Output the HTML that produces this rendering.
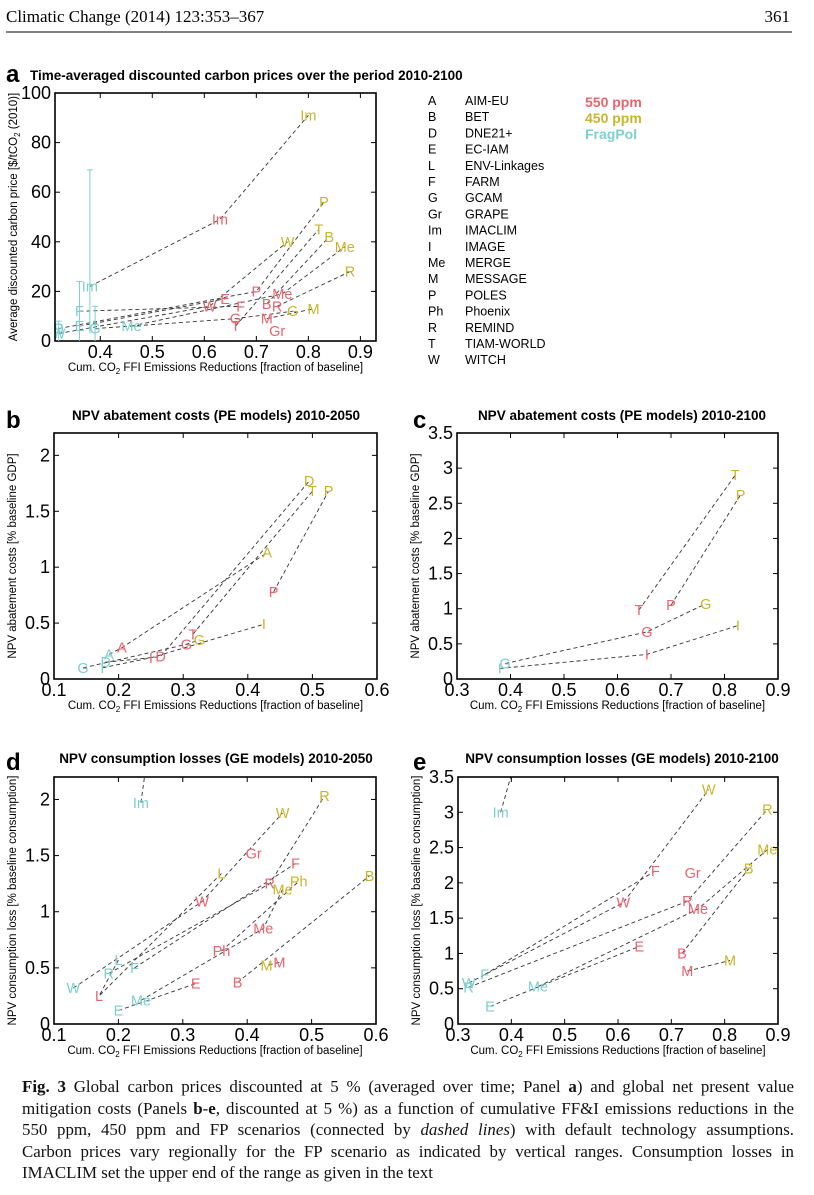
<!DOCTYPE html>
<html><head><meta charset="utf-8"><style>
body{margin:0;background:#fff;width:814px;height:1195px;overflow:hidden;font-family:"Liberation Sans",sans-serif}
svg{position:absolute;left:0;top:0}
.cap{position:absolute;left:22px;top:1076px;width:772px;font-family:"Liberation Serif",serif;font-size:16.9px;line-height:21.5px;color:#111}
.cap div{white-space:nowrap;text-align:justify;text-align-last:justify}
.cap div.last{text-align-last:left}
</style></head><body>
<svg id="fig" width="814" height="1195">
<text x="6" y="22" font-family="Liberation Serif" font-size="17">Climatic Change (2014) 123:353–367</text>
<text x="790" y="22" text-anchor="end" font-family="Liberation Serif" font-size="17">361</text>
<line x1="6" y1="32" x2="792" y2="32" stroke="#000" stroke-width="1"/>
</svg>
<div class="cap">
<div><b>Fig. 3</b> Global carbon prices discounted at 5 % (averaged over time; Panel <b>a</b>) and global net present value</div>
<div>mitigation costs (Panels <b>b</b>-<b>e</b>, discounted at 5 %) as a function of cumulative FF&amp;I emissions reductions in the</div>
<div>550 ppm, 450 ppm and FP scenarios (connected by <i>dashed lines</i>) with default technology assumptions.</div>
<div>Carbon prices vary regionally for the FP scenario as indicated by vertical ranges. Consumption losses in</div>
<div class="last">IMACLIM set the upper end of the range as given in the text</div>
</div>
<script>
// ---- Panel a data ----
const aModels = ["Im","F","P","W","E","G","Me","B","R","M","Gr","T","D"];
const aXfp  = [0.38,0.36,0.32,0.32,0.36,0.39,0.46,null,null,null,null,null,0.32];
const aYfp  = [22,12,5,3,6,5,6,null,null,null,null,null,5];
const aX550 = [0.63,0.67,0.70,0.61,0.64,0.66,0.75,0.72,0.74,0.72,0.74,0.66,null];
const aY550 = [49,14,20,14,17,9,19,15,14,9,4,6,null];
const aX450 = [0.80,null,0.83,0.76,null,0.77,0.87,0.84,0.88,0.81,null,0.82,null];
const aY450 = [91,null,56,40,null,12,38,42,28,13,null,45,null];
const aErrX = [0.38,0.36,0.39,0.32];
const aErrLo = [3,0,0,0];
const aErrHi = [69,24,14,8];
// ---- Panel b data ----
const bModels = ["G","I","D","A","T","P"];
const bXfp  = [0.145,0.175,0.18,0.185,null,null];
const bYfp  = [0.1,0.1,0.15,0.22,null,null];
const bX550 = [0.305,0.25,0.265,0.205,0.315,0.44];
const bY550 = [0.31,0.19,0.2,0.28,0.4,0.78];
const bX450 = [0.325,0.425,0.495,0.43,0.5,0.525];
const bY450 = [0.35,0.49,1.77,1.13,1.68,1.68];
// ---- Panel c data ----
const cModels = ["G","I","T","P"];
const cXfp  = [0.39,0.38,null,null];
const cYfp  = [0.22,0.15,null,null];
const cX550 = [0.655,0.655,0.64,0.70];
const cY550 = [0.67,0.35,0.98,1.05];
const cX450 = [0.765,0.825,0.82,0.83];
const cY450 = [1.07,0.76,2.9,2.62];
// ---- Panel d data ----
const dModels = ["Im","W","L","R","F","Gr","Ph","Me","E","B","M"];
const dXfp  = [0.235,0.13,0.2,0.185,0.225,null,null,0.235,0.2,null,null];
const dYfp  = [1.97,0.32,0.57,0.45,0.5,null,null,0.21,0.12,null,null];
const dX550 = [null,0.33,0.17,0.435,0.475,0.41,0.36,0.425,0.32,0.385,0.45];
const dY550 = [null,1.09,0.25,1.25,1.43,1.52,0.65,0.85,0.36,0.37,0.55];
const dX450 = [0.25,0.455,0.36,0.52,null,null,0.48,0.455,null,0.59,0.43];
const dY450 = [2.6,1.88,1.34,2.03,null,null,1.27,1.2,null,1.32,0.52];
// ---- Panel e data ----
const eModels = ["Im","W","F","R","Gr","Me","E","B","M"];
const eXfp  = [0.38,0.32,0.35,0.32,null,0.45,0.36,null,null];
const eYfp  = [3.0,0.58,0.7,0.52,null,0.53,0.25,null,null];
const eX550 = [null,0.61,0.67,0.73,0.74,0.75,0.64,0.72,0.73];
const eY550 = [null,1.72,2.17,1.74,2.14,1.63,1.1,1.0,0.75];
const eX450 = [0.41,0.77,null,0.88,null,0.88,null,0.845,0.81];
const eY450 = [3.8,3.32,null,3.04,null,2.47,null,2.2,0.9];
// tick labels
const aXTicks=[0.4,0.5,0.6,0.7,0.8,0.9], aYTicks=[0,20,40,60,80,100];
const bXTicks=[0.1,0.2,0.3,0.4,0.5,0.6], bYTicks=[0,0.5,1,1.5,2];
const cXTicks=[0.3,0.4,0.5,0.6,0.7,0.8,0.9], cYTicks=[0,0.5,1,1.5,2,2.5,3,3.5];
const legCodes=["A","B","D","E","L","F","G","Gr","Im","I","Me","M","P","Ph","R","T","W"];
const legNames=["AIM-EU","BET","DNE21+","EC-IAM","ENV-Linkages","FARM","GCAM","GRAPE","IMACLIM","IMAGE","MERGE","MESSAGE","POLES","Phoenix","REMIND","TIAM-WORLD","WITCH"];

const NS="http://www.w3.org/2000/svg";
const svg=document.getElementById('fig');
const C_FP="#7dcfcd", C_550="#e8646f", C_450="#c9b52c";
function mk(tag,attrs,parent){const e=document.createElementNS(NS,tag);for(const k in attrs)e.setAttribute(k,attrs[k]);(parent||svg).appendChild(e);return e;}

function panel(id,box,xr,yr,xt,yt,letter,letterPos,title,titleX,titleY,ylab,models,xf,yf,x5,y5,x4,y4){
  const g=mk('g',{});
  
  
  const sx=v=>box.l+(v-xr[0])/(xr[1]-xr[0])*(box.r-box.l);
  const sy=v=>box.b-(v-yr[0])/(yr[1]-yr[0])*(box.b-box.t);
  const cp='clip-'+id;
  const cl=mk('clipPath',{id:cp},g);mk('rect',{x:box.l,y:box.t,width:box.r-box.l,height:box.b-box.t},cl);
  const L=mk('text',{x:letterPos[0],y:letterPos[1],'font-size':24,'font-weight':'bold'},g);L.textContent=letter;
  
  
  const T=mk('text',{x:titleX,y:titleY,'font-size':13.5,'font-weight':'bold','text-anchor':letter==='a'?'start':'middle'},g);T.textContent=title;
  
  
  const lines=mk('g',{'clip-path':'url(#'+cp+')'},g);
  
  
  const marks=mk('g',{'clip-path':'url(#'+cp+')'},g);
  for(let i=0;i<models.length;i++){
    const pts=[[xf[i],yf[i]],[x5[i],y5[i]],[x4[i],y4[i]]].filter(p=>p[0]!=null);
    if(pts.length>1){const pl=mk('polyline',{points:pts.map(p=>sx(p[0])+','+sy(p[1])).join(' '),fill:'none',stroke:'#333','stroke-width':0.9,'stroke-dasharray':'4,3'},lines);
      
      }
    [[xf,yf,C_FP,'fp'],[x5,y5,C_550,'550'],[x4,y4,C_450,'450']].forEach(s=>{
      if(s[0][i]==null)return;
      const t=mk('text',{x:sx(s[0][i]),y:sy(s[1][i])+5,'font-size':14.5,fill:s[2],'text-anchor':'middle'},marks);
      t.textContent=models[i];
      
      
    });
  }
  mk('rect',{x:box.l,y:box.t,width:box.r-box.l,height:box.b-box.t,fill:'none',stroke:'#000','stroke-width':1.6},g);
  xt.forEach(v=>{const x=sx(v);mk('line',{x1:x,y1:box.b,x2:x,y2:box.b-5,stroke:'#000'},g);mk('line',{x1:x,y1:box.t,x2:x,y2:box.t+5,stroke:'#000'},g);
    const t=mk('text',{x:x,y:box.b+17,'font-size':18,'text-anchor':'middle'},g);t.textContent=String(v);
    
    });
  yt.forEach(v=>{const y=sy(v);mk('line',{x1:box.l,y1:y,x2:box.l+5,y2:y,stroke:'#000'},g);mk('line',{x1:box.r,y1:y,x2:box.r-5,y2:y,stroke:'#000'},g);
    const t=mk('text',{x:box.l-4,y:y+6,'font-size':18,'text-anchor':'end'},g);t.textContent=String(v);
    
    });
  const xl=mk('text',{x:(box.l+box.r)/2,y:box.b+30,'font-size':11.5,'text-anchor':'middle'},g);
  xl.innerHTML='Cum. CO<tspan font-size="8" dy="3">2</tspan><tspan dy="-3"> FFI Emissions Reductions [fraction of baseline]</tspan>';
  
  
  const yx=box.l-38, yc=(box.t+box.b)/2;
  const yl=mk('text',{x:yx,y:yc,'font-size':11.5,'text-anchor':'middle',transform:'rotate(-90 '+yx+' '+yc+')'},g);
  yl.innerHTML=ylab;
  
  
  return {sx,sy,g};
}

const pa=panel('a',{l:55,r:376,t:93,b:341},[0.313,0.93],[0,100],aXTicks,aYTicks,'a',[6,82],'Time-averaged discounted carbon prices over the period 2010-2100',30,80,
 'Average discounted carbon price [$/tCO<tspan font-size="8" dy="3">2</tspan><tspan dy="-3"> (2010)]</tspan>',aModels,aXfp,aYfp,aX550,aY550,aX450,aY450);
for(let i=0;i<aErrX.length;i++){
  const x=pa.sx(aErrX[i]);
  const l=mk('line',{x1:x,y1:pa.sy(aErrLo[i]),x2:x,y2:pa.sy(aErrHi[i]),stroke:C_FP,'stroke-width':1},pa.g);
  
  
  mk('line',{x1:x-3,y1:pa.sy(aErrHi[i]),x2:x+3,y2:pa.sy(aErrHi[i]),stroke:C_FP},pa.g);
}
panel('b',{l:54,r:377,t:433,b:679},[0.1,0.6],[0,2.2],bXTicks,bYTicks,'b',[6,428],'NPV abatement costs (PE models) 2010-2050',216,420,
 'NPV abatement costs [% baseline GDP]',bModels,bXfp,bYfp,bX550,bY550,bX450,bY450);
panel('c',{l:457,r:778,t:433,b:679},[0.3,0.9],[0,3.5],cXTicks,cYTicks,'c',[413,428],'NPV abatement costs (PE models) 2010-2100',622,420,
 'NPV abatement costs [% baseline GDP]',cModels,cXfp,cYfp,cX550,cY550,cX450,cY450);
panel('d',{l:54,r:376,t:777,b:1024},[0.1,0.6],[0,2.2],bXTicks,bYTicks,'d',[6,770],'NPV consumption losses (GE models) 2010-2050',216,763,
 'NPV consumption loss [% baseline consumption]',dModels,dXfp,dYfp,dX550,dY550,dX450,dY450);
panel('e',{l:458,r:778,t:777,b:1024},[0.3,0.9],[0,3.5],cXTicks,cYTicks,'e',[413,770],'NPV consumption losses (GE models) 2010-2100',622,763,
 'NPV consumption loss [% baseline consumption]',eModels,eXfp,eYfp,eX550,eY550,eX450,eY450);

// legend
for(let i=0;i<legCodes.length;i++){
  const y=105+i*16.2;
  const a=mk('text',{x:428,y:y,'font-size':12.5});a.textContent=legCodes[i];
  
  
  const b=mk('text',{x:465,y:y,'font-size':12.5});b.textContent=legNames[i];
  
  
}
[['550 ppm',C_550],['450 ppm',C_450],['FragPol',C_FP]].forEach((s,i)=>{
  const t=mk('text',{x:585,y:107+i*16,'font-size':14,'font-weight':'bold',fill:s[1]});t.textContent=s[0];
  
  
});
</script>
</body></html>
